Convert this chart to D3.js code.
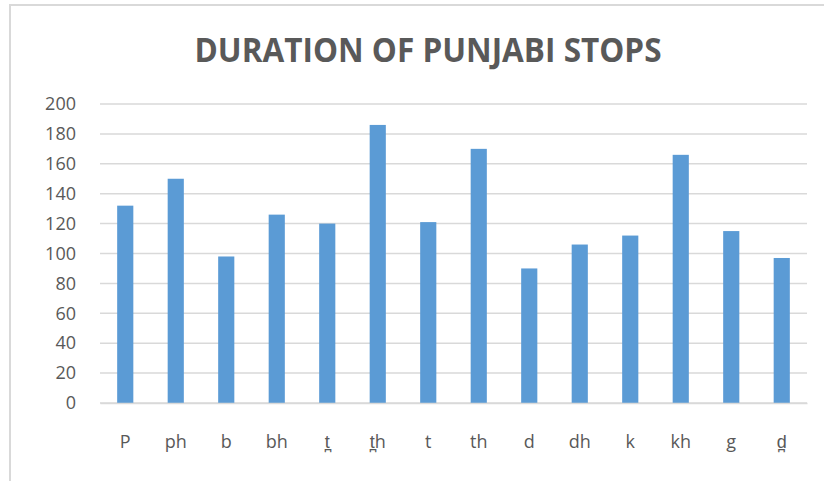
<!DOCTYPE html>
<html>
<head>
<meta charset="utf-8">
<script src="https://cdn.jsdelivr.net/npm/d3@7"></script>
<style>
  body { margin: 0; background: #fff; }
  svg { display: block; }
</style>
</head>
<body>
<div id="chart"></div>
<script>
// data
const stops = ['P', 'ph', 'b', 'bh', 't\u032A', 't\u032Ah', 't', 'th', 'd', 'dh', 'k', 'kh', 'g', 'd\u032A'];
const durations = [132, 150, 98, 126, 120, 186, 121, 170, 90, 106, 112, 166, 115, 97];
const yTicks = [0, 20, 40, 60, 80, 100, 120, 140, 160, 180, 200];
const chartTitle = 'DURATION OF PUNJABI STOPS';

const width = 824, height = 481;
const margin = { top: 104, right: 17, bottom: 78, left: 100 };
const textColor = '#595959';
const font = '"Open Sans", sans-serif';

const svg = d3.select('#chart')
  .append('svg')
  .attr('width', width)
  .attr('height', height);

// chart frame
svg.append('rect')
  .attr('x', 10)
  .attr('y', 5)
  .attr('width', width)
  .attr('height', height)
  .attr('fill', 'none')
  .attr('stroke', '#d9d9d9')
  .attr('stroke-width', 2);

const x = d3.scaleBand()
  .domain(stops)
  .range([margin.left, width - margin.right])
  .paddingInner(0.68)
  .paddingOuter(0.34);

const y = d3.scaleLinear()
  .domain([0, 200])
  .range([height - margin.bottom, margin.top]);

// gridlines
svg.append('g')
  .attr('class', 'grid')
  .selectAll('line')
  .data(yTicks)
  .enter()
    .append('line')
    .attr('x1', margin.left)
    .attr('x2', width - margin.right)
    .attr('y1', d => y(d))
    .attr('y2', d => y(d))
    .style('stroke', '#d9d9d9')
    .style('stroke-width', 1.5);

// y axis labels
const yAxis = d3.axisLeft(y)
  .tickValues(yTicks)
  .tickSize(0)
  .tickPadding(24);

svg.append('g')
  .attr('transform', `translate(${margin.left},0)`)
  .call(yAxis)
  .call(g => g.select('.domain').remove())
  .selectAll('text')
    .style('font-family', font)
    .style('font-size', '18px')
    .style('fill', textColor);

// bars
svg.append('g')
  .selectAll('.bar')
  .data(durations)
  .enter()
    .append('rect')
    .classed('bar', true)
    .attr('x', (d, i) => x(stops[i]))
    .attr('y', d => y(d))
    .attr('width', x.bandwidth())
    .attr('height', d => y(0) - y(d))
    .style('fill', '#5b9bd5');

// x axis labels
const xAxis = d3.axisBottom(x)
  .tickSize(0)
  .tickPadding(32);

svg.append('g')
  .attr('transform', `translate(0,${y(0)})`)
  .call(xAxis)
  .call(g => g.select('.domain')
    .style('stroke', '#d9d9d9')
    .style('stroke-width', 1.5))
  .selectAll('text')
    .style('font-family', font)
    .style('font-size', '18px')
    .style('fill', textColor);

// title
svg.append('text')
  .attr('x', 428)
  .attr('y', 62)
  .attr('text-anchor', 'middle')
  .attr('textLength', 467)
  .attr('lengthAdjust', 'spacingAndGlyphs')
  .style('font-family', font)
  .style('font-weight', 'bold')
  .style('font-size', '34px')
  .style('fill', textColor)
  .text(chartTitle);
</script>
</body>
</html>
